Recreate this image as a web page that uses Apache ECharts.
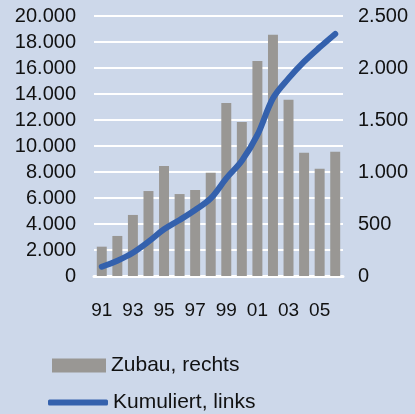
<!DOCTYPE html>
<html>
<head>
<meta charset="utf-8">
<script src="https://cdn.jsdelivr.net/npm/echarts@6/dist/echarts.min.js"></script>
<style>
  html, body { margin: 0; padding: 0; background: #cdd8ea; }
  #chart { width: 415px; height: 414px; }
</style>
</head>
<body>
<div id="chart"></div>
<script>
// Jahre (zweistellig)
const years = ['91', '92', '93', '94', '95', '96', '97', '98', '99', '00', '01', '02', '03', '04', '05', '06']
// Zubau pro Jahr (rechte Achse)
const zubau = [282, 385, 587, 817, 1058, 788, 827, 993, 1663, 1481, 2067, 2320, 1695, 1186, 1032, 1195]
// Kumuliert (linke Achse)
const kumuliert = [715, 1180, 1790, 2640, 3590, 4310, 5080, 5970, 7510, 8870, 10850, 13670, 15200, 16490, 17590, 18620]

const fmt = v => String(v).replace(/\B(?=(\d{3})+(?!\d))/g, '.')

const chart = echarts.init(document.getElementById('chart'))
chart.setOption({
  animation: false,
  backgroundColor: '#cdd8ea',
  textStyle: { fontFamily: 'Liberation Sans, Arial, sans-serif' },
  grid: { top: 16, bottom: 138, left: 94, right: 72 },
  legend: [
    {
      left: 47,
      top: 350,
      orient: 'vertical',
      itemWidth: 54,
      itemHeight: 14,
      icon: 'rect',
      selectedMode: false,
      textStyle: { fontSize: 21, color: '#111' },
      data: ['Zubau, rechts']
    },
    {
      left: 43,
      top: 387,
      orient: 'vertical',
      itemWidth: 60,
      itemHeight: 6,
      icon: 'roundRect',
      selectedMode: false,
      textStyle: { fontSize: 21, color: '#111' },
      data: ['Kumuliert, links']
    }
  ],
  xAxis: {
    type: 'category',
    data: years,
    axisLine: { lineStyle: { color: '#fff', width: 3 } },
    axisTick: { show: false },
    axisLabel: { interval: 1, color: '#111', fontSize: 19, margin: 25 }
  },
  yAxis: [
    {
      type: 'value',
      min: 0,
      max: 20000,
      interval: 2000,
      axisLine: { show: false },
      axisTick: { show: false },
      axisLabel: { color: '#111', fontSize: 20, margin: 18, formatter: fmt },
      splitLine: { lineStyle: { color: '#fff', width: 2 } }
    },
    {
      type: 'value',
      min: 0,
      max: 2500,
      interval: 500,
      axisLine: { show: false },
      axisTick: { show: false },
      axisLabel: { color: '#111', fontSize: 20, margin: 15, formatter: fmt },
      splitLine: { show: false }
    }
  ],
  series: [
    {
      name: 'Zubau, rechts',
      type: 'bar',
      yAxisIndex: 1,
      data: zubau,
      barWidth: '64%',
      itemStyle: { color: '#999794' }
    },
    {
      name: 'Kumuliert, links',
      type: 'line',
      yAxisIndex: 0,
      data: kumuliert,
      smooth: 0.35,
      symbol: 'none',
      lineStyle: { color: '#3461ad', width: 6, cap: 'round' },
      itemStyle: { color: '#3461ad' }
    }
  ]
})
</script>
</body>
</html>
